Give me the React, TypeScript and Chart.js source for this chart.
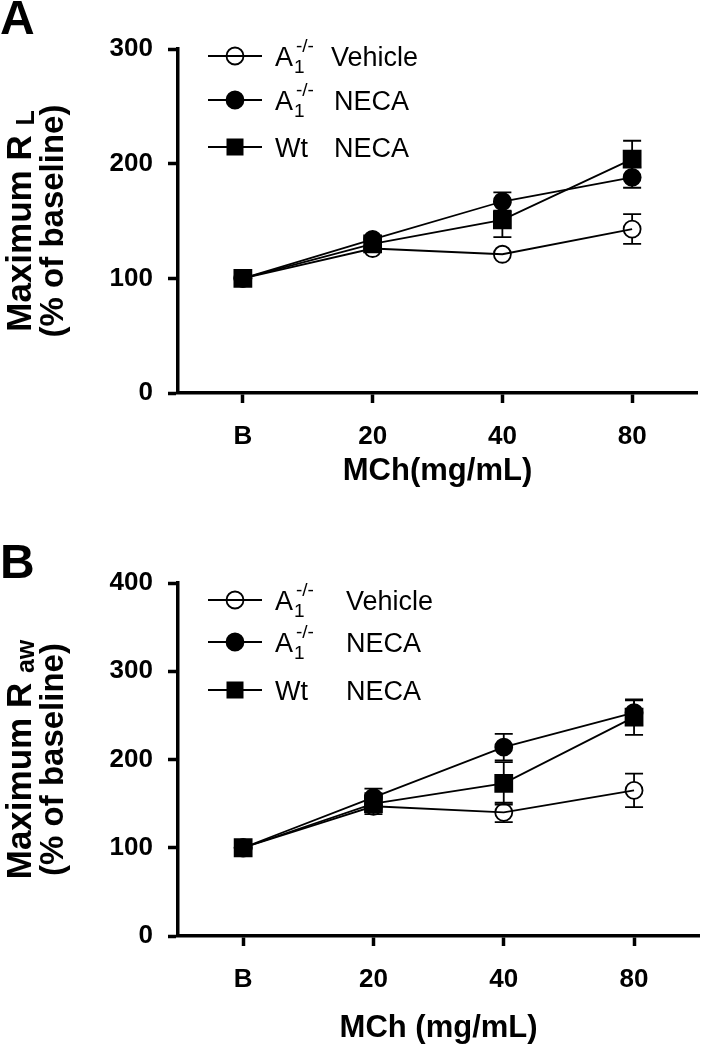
import React, { useEffect, useRef } from 'react';
import { Chart, registerables } from 'chart.js';

Chart.register(...registerables);

// ---------- data ----------
const categories = ['B', '20', '40', '80'];

const aVehicle = [100, 126, 121, 143];
const aVehicleErr = [0, 3, 4, 13];
const aNeca = [100, 134, 167, 188];
const aNecaErr = [0, 3, 8, 9];
const aWt = [100, 130, 151, 204];
const aWtErr = [0, 3, 15, 16];

const bVehicle = [100, 147, 140, 165];
const bVehicleErr = [0, 8, 11, 19];
const bNeca = [100, 157, 214, 253];
const bNecaErr = [0, 10, 15, 14];
const bWt = [100, 150, 173, 248];
const bWtErr = [0, 12, 24, 20];

const aYMax = 300;
const bYMax = 400;
const yStep = 100;

const legendMain = ['A', 'A', 'Wt'];
const legendSub = ['1', '1', ''];
const legendSup = ['-/-', '-/-', ''];
const legendName = ['Vehicle', 'NECA', 'NECA'];

const FONT = "'Liberation Sans', Arial, Helvetica, sans-serif";

Chart.defaults.color = '#000';
Chart.defaults.font.family = FONT;

type PanelCfg = {
  letter: string;
  letterY: number;
  yMax: number;
  yTitle: string;
  ySub: string;
  xTitle: string;
  padTop: number;
  padRight: number;
  xScaleHeight: number;
  legendRows: number[];
  nameX: number[];
  xTitleY: number;
  series: { data: number[]; err: number[] }[];
};

const panelA: PanelCfg = {
  letter: 'A',
  letterY: 21,
  yMax: aYMax,
  yTitle: 'Maximum R',
  ySub: 'L',
  xTitle: 'MCh(mg/mL)',
  padTop: 49,
  padRight: 16,
  xScaleHeight: 132,
  legendRows: [56, 100, 147],
  nameX: [331, 334, 334],
  xTitleY: 471,
  series: [
    { data: aVehicle, err: aVehicleErr },
    { data: aNeca, err: aNecaErr },
    { data: aWt, err: aWtErr },
  ],
};

const panelB: PanelCfg = {
  letter: 'B',
  letterY: 40,
  yMax: bYMax,
  yTitle: 'Maximum R',
  ySub: 'aw',
  xTitle: 'MCh (mg/mL)',
  padTop: 58,
  padRight: 4,
  xScaleHeight: 114,
  legendRows: [75, 117, 165],
  nameX: [346, 346, 346],
  xTitleY: 503,
  series: [
    { data: bVehicle, err: bVehicleErr },
    { data: bNeca, err: bNecaErr },
    { data: bWt, err: bWtErr },
  ],
};

const LW = 1.8;
const CIRCLE_R = 8.5;
const RECT_R = 12;
const HALF = 8.5;

function drawMarker(ctx: CanvasRenderingContext2D, kind: number, x: number, y: number) {
  ctx.save();
  ctx.lineWidth = LW;
  ctx.strokeStyle = '#000';
  ctx.fillStyle = '#000';
  if (kind === 2) {
    ctx.fillRect(x - HALF, y - HALF, HALF * 2, HALF * 2);
  } else {
    ctx.beginPath();
    ctx.arc(x, y, CIRCLE_R, 0, Math.PI * 2);
    if (kind === 1) ctx.fill();
    ctx.stroke();
  }
  ctx.restore();
}

function makePanelPlugin(cfg: PanelCfg) {
  return {
    id: 'panelDecor',
    beforeDatasetsDraw(chart: any) {
      const ctx: CanvasRenderingContext2D = chart.ctx;
      const yScale = chart.scales.y;
      chart.data.datasets.forEach((ds: any, di: number) => {
        const meta = chart.getDatasetMeta(di);
        const errs: number[] = ds.errors;
        meta.data.forEach((pt: any, i: number) => {
          const e = errs[i];
          if (!e) return;
          const v = ds.data[i];
          const x = pt.x;
          const y = pt.y;
          const yTop = yScale.getPixelForValue(v + e);
          const yBot = yScale.getPixelForValue(v - e);
          ctx.save();
          ctx.strokeStyle = '#000';
          ctx.lineWidth = LW;
          ctx.beginPath();
          if (yTop < y - HALF) {
            ctx.moveTo(x, y - HALF);
            ctx.lineTo(x, yTop);
            ctx.moveTo(x - 9, yTop);
            ctx.lineTo(x + 9, yTop);
          }
          if (yBot > y + HALF) {
            ctx.moveTo(x, y + HALF);
            ctx.lineTo(x, yBot);
            ctx.moveTo(x - 9, yBot);
            ctx.lineTo(x + 9, yBot);
          }
          ctx.stroke();
          ctx.restore();
        });
      });
    },
    afterDraw(chart: any) {
      const ctx: CanvasRenderingContext2D = chart.ctx;
      const area = chart.chartArea;
      ctx.save();
      ctx.fillStyle = '#000';
      // panel letter
      ctx.font = `bold 48px ${FONT}`;
      ctx.textAlign = 'left';
      ctx.textBaseline = 'middle';
      ctx.fillText(cfg.letter, 0, cfg.letterY);

      // x title
      ctx.font = `bold 31px ${FONT}`;
      ctx.textAlign = 'center';
      ctx.fillText(cfg.xTitle, (area.left + area.right) / 2, cfg.xTitleY);

      // y title (rotated, two lines)
      const cy = (area.top + area.bottom) / 2;
      ctx.save();
      ctx.translate(21, cy);
      ctx.rotate(-Math.PI / 2);
      ctx.textAlign = 'left';
      ctx.textBaseline = 'middle';
      ctx.font = `bold 35px ${FONT}`;
      const wMain = ctx.measureText(cfg.yTitle + ' ').width;
      ctx.font = `bold 25px ${FONT}`;
      const wSub = ctx.measureText(cfg.ySub).width;
      const start = -(wMain + wSub) / 2;
      ctx.font = `bold 35px ${FONT}`;
      ctx.fillText(cfg.yTitle, start, 0);
      ctx.font = `bold 25px ${FONT}`;
      ctx.fillText(cfg.ySub, start + wMain, 6);
      ctx.restore();

      ctx.save();
      ctx.translate(54, cy);
      ctx.rotate(-Math.PI / 2);
      ctx.textAlign = 'center';
      ctx.textBaseline = 'middle';
      ctx.font = `bold 33px ${FONT}`;
      ctx.fillText('(% of baseline)', 0, 0);
      ctx.restore();

      // legend
      cfg.legendRows.forEach((ry, i) => {
        ctx.save();
        ctx.strokeStyle = '#000';
        ctx.lineWidth = LW;
        ctx.beginPath();
        ctx.moveTo(208, ry);
        ctx.lineTo(262, ry);
        ctx.stroke();
        ctx.restore();
        drawMarker(ctx, i, 235, ry);
        ctx.textAlign = 'left';
        ctx.textBaseline = 'alphabetic';
        const base = ry + 10;
        ctx.font = `27px ${FONT}`;
        ctx.fillText(legendMain[i], 275, base);
        const x = 275 + ctx.measureText(legendMain[i]).width;
        if (legendSub[i]) {
          ctx.font = `19px ${FONT}`;
          ctx.fillText(legendSub[i], x + 1, base + 7);
          ctx.fillText(legendSup[i], x + 3, base - 14);
        }
        ctx.font = `27px ${FONT}`;
        ctx.fillText(legendName[i], cfg.nameX[i], base);
      });
      ctx.restore();
    },
  };
}

function buildConfig(cfg: PanelCfg): any {
  const kinds = [
    { style: 'circle', r: CIRCLE_R, bg: 'rgba(0,0,0,0)' },
    { style: 'circle', r: CIRCLE_R, bg: '#000' },
    { style: 'rect', r: RECT_R, bg: '#000' },
  ];
  const datasets = cfg.series.map((s, i) => ({
    data: s.data,
    errors: s.err,
    borderColor: '#000',
    borderWidth: LW,
    pointStyle: kinds[i].style,
    pointRadius: kinds[i].r,
    pointHoverRadius: kinds[i].r,
    pointBackgroundColor: kinds[i].bg,
    pointBorderColor: '#000',
    pointBorderWidth: LW,
    fill: false,
    tension: 0,
    order: 2 - i,
    clip: false,
  }));
  return {
    type: 'line',
    data: { labels: categories, datasets },
    options: {
      animation: false,
      responsive: false,
      maintainAspectRatio: false,
      events: [],
      layout: { padding: { top: cfg.padTop, right: cfg.padRight, left: 0, bottom: 0 } },
      plugins: { legend: { display: false }, tooltip: { enabled: false }, title: { display: false } },
      scales: {
        x: {
          type: 'category',
          offset: true,
          border: { display: true, color: '#000', width: 3.5 },
          grid: {
            display: true,
            drawOnChartArea: false,
            drawTicks: true,
            tickLength: 10,
            tickWidth: 3.5,
            tickColor: '#000',
            offset: false,
          },
          ticks: { color: '#000', font: { size: 26, weight: 'bold' }, padding: 18, maxRotation: 0 },
          afterFit: (scale: any) => {
            scale.height = cfg.xScaleHeight;
          },
        },
        y: {
          min: 0,
          max: cfg.yMax,
          border: { display: true, color: '#000', width: 3.5 },
          grid: {
            display: true,
            drawOnChartArea: false,
            drawTicks: true,
            tickLength: 10,
            tickWidth: 3.5,
            tickColor: '#000',
          },
          ticks: { stepSize: yStep, color: '#000', font: { size: 26, weight: 'bold' }, padding: 15 },
          afterFit: (scale: any) => {
            scale.width = 178;
          },
        },
      },
    },
    plugins: [makePanelPlugin(cfg)],
  };
}

function Panel({ cfg, top }: { cfg: PanelCfg; top: number }) {
  const ref = useRef<HTMLCanvasElement | null>(null);
  useEffect(() => {
    if (!ref.current) return;
    const chart = new Chart(ref.current, buildConfig(cfg));
    return () => chart.destroy();
  }, [cfg]);
  return (
    <canvas
      ref={ref}
      width={713}
      height={525}
      style={{ position: 'absolute', left: 0, top, width: 713, height: 525, display: 'block' }}
    />
  );
}

export default function App() {
  return (
    <div style={{ position: 'absolute', left: 0, top: 0, width: 713, height: 1050, background: '#fff' }}>
      <Panel cfg={panelA} top={0} />
      <Panel cfg={panelB} top={525} />
    </div>
  );
}
